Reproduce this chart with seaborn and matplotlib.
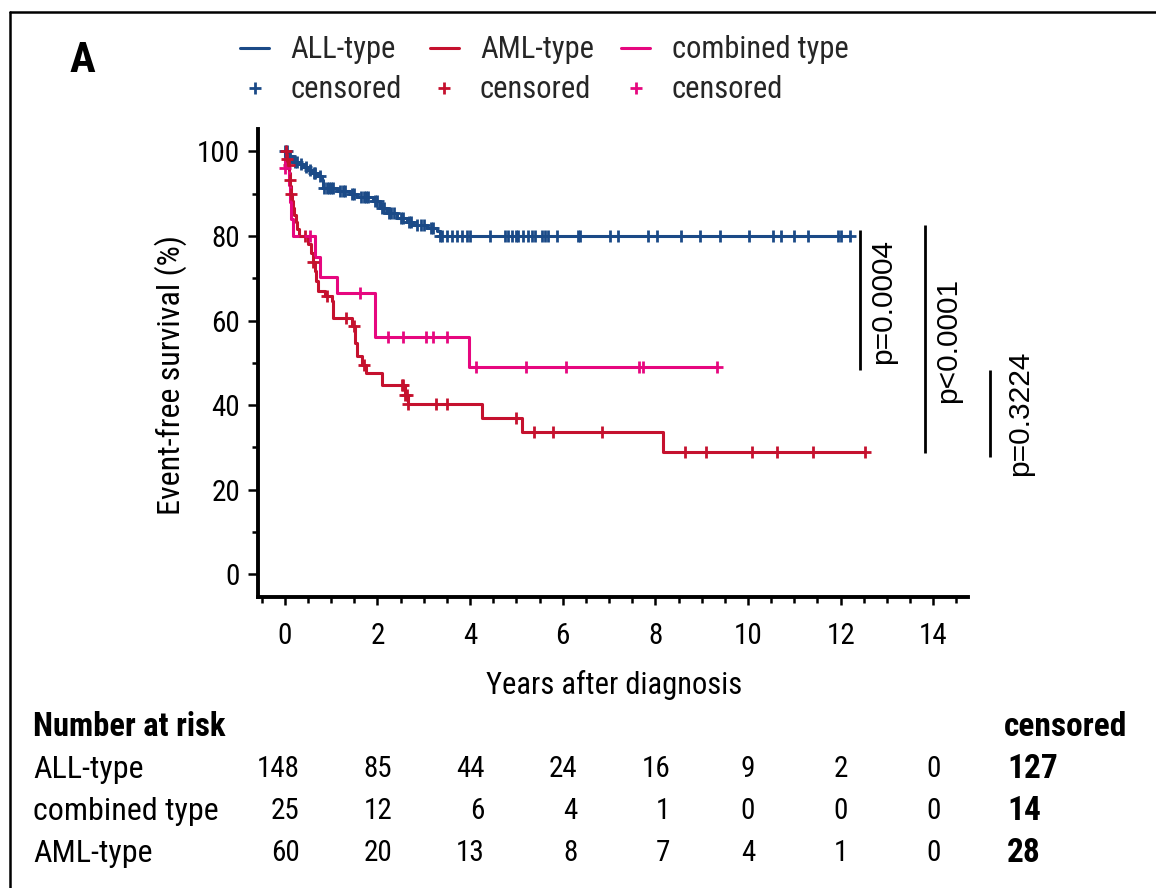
import numpy as np
import pandas as pd
import matplotlib
matplotlib.use("Agg")
import matplotlib.pyplot as plt
import matplotlib.transforms as mtransforms
from matplotlib.lines import Line2D
from matplotlib.ticker import MultipleLocator
from matplotlib import font_manager
import seaborn as sns

sns.set_theme(style="ticks")
installed = {f.name for f in font_manager.fontManager.ttflist}
FONT = [f for f in ["Roboto Condensed", "Liberation Sans Narrow", "Lato"]
        if f in installed] + ["DejaVu Sans"]
plt.rcParams["font.family"] = FONT

# ---------------------------------------------------------------- data
groups = ["ALL-type", "AML-type", "combined type"]
palette = {"ALL-type": "#1b4a87", "AML-type": "#c5112e", "combined type": "#e6077f"}

# Kaplan-Meier steps: event times (years) and survival (%) just after each event
all_event_t = [0.08, 0.17, 0.30, 0.39, 0.50, 0.58, 0.70, 0.80, 0.82, 1.12, 1.40,
               1.56, 1.90, 2.05, 2.20, 2.42, 2.63, 2.76, 3.07, 3.28, 3.35]
all_surv = [98.8, 97.6, 97.0, 96.4, 95.7, 95.0, 94.2, 93.3, 91.4, 90.6, 90.0,
            89.3, 88.2, 86.7, 85.5, 84.3, 83.4, 82.6, 81.9, 81.2, 79.9]
all_censor_t = [0.0, 0.05, 0.12, 0.22, 0.26, 0.35, 0.45, 0.55, 0.62, 0.66, 0.75,
                0.85, 0.90, 0.95, 1.00, 1.05, 1.20, 1.25, 1.30, 1.45, 1.50, 1.65,
                1.70, 1.75, 1.80, 1.95, 2.00, 2.10, 2.15, 2.25, 2.30, 2.35, 2.50,
                2.55, 2.68, 2.72, 2.85, 2.95, 3.00, 3.15, 3.20,
                3.36, 3.40, 3.50, 3.60, 3.72, 3.83, 3.94, 4.00, 4.43, 4.76, 4.82,
                4.91, 4.98, 5.04, 5.15, 5.26, 5.34, 5.41, 5.56, 5.62, 5.69, 5.88,
                6.34, 6.38, 7.03, 7.20, 7.85, 8.04, 8.55, 8.96, 9.39, 10.02, 10.54,
                10.71, 10.99, 11.30, 11.95, 12.01, 12.20]

aml_event_t = [0.04, 0.07, 0.09, 0.11, 0.12, 0.13, 0.15, 0.17, 0.20, 0.23,
               0.27, 0.30, 0.50, 0.56, 0.60, 0.65, 0.68, 0.71, 0.86, 1.01,
               1.04, 1.44, 1.51, 1.55, 1.66, 1.76, 2.09, 2.59, 2.66, 4.25,
               5.11, 8.16]
aml_surv = [98.3, 96.7, 95.0, 93.3, 91.7, 90.0, 88.3, 86.7, 85.0, 83.3,
            81.7, 80.0, 78.0, 76.0, 73.8, 71.6, 69.3, 66.9, 65.7, 64.5,
            60.6, 58.6, 54.7, 51.5, 49.5, 47.5, 44.8, 42.4, 40.3, 36.9,
            33.7, 29.0]
aml_censor_t = [0.02, 0.05, 0.08, 0.11, 0.14, 0.43, 0.60, 0.90, 1.33, 1.50,
                1.70, 2.52, 2.56, 2.60, 2.63, 2.66, 3.26, 3.50, 5.00, 5.37,
                5.79, 6.85, 8.64, 9.09, 10.08, 10.62, 11.40, 12.52]

comb_event_t = [0.0, 0.08, 0.11, 0.14, 0.18, 0.65, 0.76, 1.12, 1.94, 1.95, 3.98]
comb_surv = [96.0, 92.0, 88.0, 84.0, 79.9, 75.1, 70.4, 66.5, 61.3, 56.2, 48.9]
comb_censor_t = [0.0, 0.55, 1.62, 2.23, 2.56, 3.04, 3.19, 3.50, 4.12, 5.21,
                 6.08, 7.64, 7.74, 9.34]

# number at risk table
risk_times = [0, 2, 4, 6, 8, 10, 12, 14]
risk_rows = ["ALL-type", "combined type", "AML-type"]
risk_all = [148, 85, 44, 24, 16, 9, 2, 0]
risk_comb = [25, 12, 6, 4, 1, 0, 0, 0]
risk_aml = [60, 20, 13, 8, 7, 4, 1, 0]
censored_totals = [127, 14, 28]

# log-rank comparisons
pvalue_labels = ["p=0.0004", "p<0.0001", "p=0.3224"]

# ---------------------------------------------------------------- frames
series = {
    "ALL-type": (all_event_t, all_surv, all_censor_t),
    "AML-type": (aml_event_t, aml_surv, aml_censor_t),
    "combined type": (comb_event_t, comb_surv, comb_censor_t),
}

curve_parts, censor_parts = [], []
for g in groups:
    ev_t, surv, cen_t = series[g]
    ev_t = np.asarray(ev_t, float)
    levels = np.concatenate([[100.0], np.asarray(surv, float)])
    end_t = max(max(cen_t), ev_t[-1])
    curve_parts.append(pd.DataFrame({
        "years": np.concatenate([[0.0], ev_t, [end_t]]),
        "efs": np.concatenate([levels, [levels[-1]]]),
        "group": g,
    }))
    idx = np.searchsorted(ev_t, np.asarray(cen_t, float), side="right")
    censor_parts.append(pd.DataFrame({
        "years": cen_t, "efs": levels[idx], "group": g,
    }))
curves = pd.concat(curve_parts, ignore_index=True)
censors = pd.concat(censor_parts, ignore_index=True)

# ---------------------------------------------------------------- figure
W, H = 1156, 888
fig = plt.figure(figsize=(W / 100, H / 100), dpi=100)
ax_left, ax_right, ax_top, ax_bot = 258, 968, 129, 597
ax = fig.add_axes([ax_left / W, 1 - ax_bot / H,
                   (ax_right - ax_left) / W, (ax_bot - ax_top) / H])

for g in groups:
    sns.lineplot(data=curves[curves.group == g], x="years", y="efs",
                 color=palette[g], drawstyle="steps-post", sort=False,
                 estimator=None, lw=2.2, ax=ax, legend=False)
sns.scatterplot(data=censors, x="years", y="efs", hue="group", palette=palette,
                marker="+", s=75, linewidth=2.0, ax=ax, legend=False, zorder=3)

ax.set_xlim(-0.58, 14.75)
ax.set_ylim(-5.4, 105.3)
ax.set_xticks(risk_times)
ax.set_yticks([0, 20, 40, 60, 80, 100])
ax.xaxis.set_minor_locator(MultipleLocator(0.5))
ax.yaxis.set_minor_locator(MultipleLocator(10))
for s in ["top", "right"]:
    ax.spines[s].set_visible(False)
for s in ["left", "bottom"]:
    ax.spines[s].set_linewidth(2.8)
    ax.spines[s].set_color("black")
ax.tick_params(axis="both", which="major", direction="out", width=1.8,
               color="black", labelsize=21, labelcolor="black")
ax.tick_params(axis="y", which="major", length=7, pad=6)
ax.tick_params(axis="y", which="minor", length=4.5, width=1.8, color="black")
ax.tick_params(axis="x", which="major", length=6, pad=12)
ax.tick_params(axis="x", which="minor", length=4, width=1.8, color="black")

ax.set_xlabel("Years after diagnosis", fontsize=22, color="black")
ax.set_ylabel("Event-free survival (%)", fontsize=23, color="black")
ax.xaxis.set_label_coords(0.501, -0.155)
ax.yaxis.set_label_coords(-0.10, 0.475)

# p-value brackets
bracket_x = [12.42, 13.82, 15.23]
bracket_y = [(81.5, 48.3), (82.6, 28.7), (48.3, 27.7)]
label_x = [12.92, 14.32, 15.87]
label_y = [64.6, 55.4, 38.1]
for bx, (y0, y1), lx, ly, lab in zip(bracket_x, bracket_y, label_x, label_y,
                                      pvalue_labels):
    ax.plot([bx, bx], [y0, y1], color="black", lw=2.0, clip_on=False,
            solid_capstyle="butt")
    ax.text(lx, ly, lab, rotation=90, ha="center", va="center", fontsize=21.5,
            family=["Liberation Sans", "DejaVu Sans"], color="black",
            clip_on=False)

# legend
handles, labels = [], []
for g in groups:
    handles.append(Line2D([], [], color=palette[g], lw=2.2))
    labels.append(g)
    handles.append(Line2D([], [], color=palette[g], ls="none", marker="+",
                          ms=8, mew=2.0))
    labels.append("censored")
fig.legend(handles, labels, ncol=3, loc="upper left",
           bbox_to_anchor=(228 / W, 1 - 23 / H), frameon=False, fontsize=22,
           handlelength=0.95, handletextpad=0.7, columnspacing=0.9,
           labelspacing=0.36, borderaxespad=0)

# panel letter
fig.text(70 / W, 1 - 60 / H, "A", fontsize=31, fontweight="bold",
         ha="left", va="center", color="black")

# number at risk table
row_y = [769, 811, 853]
risk_values = [risk_all, risk_comb, risk_aml]
blend = mtransforms.blended_transform_factory(ax.transData, fig.transFigure)
fig.text(33 / W, 1 - 727 / H, "Number at risk", fontsize=23.5,
         fontweight="bold", ha="left", va="center", color="black")
fig.text(1004 / W, 1 - 727 / H, "censored", fontsize=24,
         fontweight="bold", ha="left", va="center", color="black")
for name, vals, tot, ry in zip(risk_rows, risk_values, censored_totals, row_y):
    yf = 1 - ry / H
    fig.text(33 / W, yf, name, fontsize=23, ha="left", va="center",
             color="black")
    for i, (t, v) in enumerate(zip(risk_times, vals)):
        if i < 5:
            ax.text(t + 0.32, yf, str(v), transform=blend, fontsize=21,
                    ha="right", va="center", color="black")
        else:
            ax.text(t, yf, str(v), transform=blend, fontsize=21,
                    ha="center", va="center", color="black")
    fig.text(1007 / W, yf, str(tot), fontsize=24, fontweight="bold",
             ha="left", va="center", color="black")

# outer panel frame
fig.add_artist(Line2D([10 / W, 1], [1 - 12 / H] * 2, transform=fig.transFigure,
                      color="black", lw=1.8))
fig.add_artist(Line2D([10 / W] * 2, [0, 1 - 12 / H], transform=fig.transFigure,
                      color="black", lw=1.8))

fig.savefig("out.png", dpi=100)
